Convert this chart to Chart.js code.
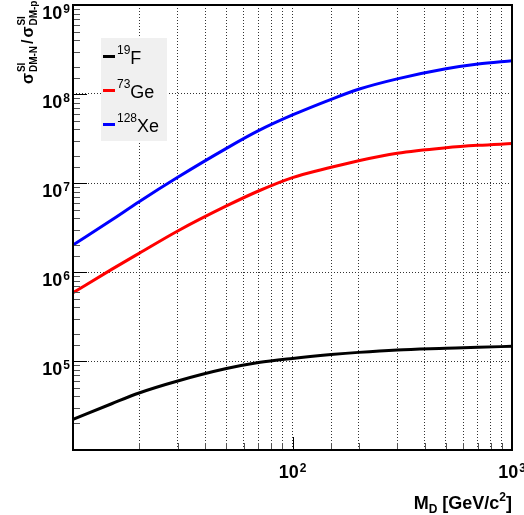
<!DOCTYPE html>
<html lang="en">
<head>
<meta charset="UTF-8">
<meta name="viewport" content="width=device-width, initial-scale=1.0">
<title>SI cross-section ratio vs dark matter mass</title>
<script src="https://cdn.jsdelivr.net/npm/chart.js"></script>
<style>
  html, body { margin: 0; padding: 0; background: #fff; }
  #wrap { width: 524px; height: 515px; }
</style>
</head>
<body>
<div id="wrap"><canvas id="ratioChart" width="524" height="515"></canvas></div>
<script>
// Dark matter mass (GeV/c^2) and sigma(DM-N) / sigma(DM-p) for each target
const massGeV = [10, 15, 20, 30, 50, 70, 100, 150, 200, 300, 500, 700, 1000];
const ratioF  = [2.21e4, 3.31e4, 4.37e4, 5.96e4, 8.22e4, 9.62e4, 1.07e5, 1.18e5, 1.25e5, 1.33e5, 1.39e5, 1.43e5, 1.46e5];
const ratioGe = [5.85e5, 1.07e6, 1.62e6, 2.89e6, 5.52e6, 8.13e6, 1.15e7, 1.50e7, 1.78e7, 2.16e7, 2.49e7, 2.65e7, 2.77e7];
const ratioXe = [2.01e6, 3.84e6, 6.17e6, 1.16e7, 2.45e7, 3.87e7, 5.81e7, 8.71e7, 1.13e8, 1.48e8, 1.92e8, 2.17e8, 2.37e8];

// target nuclei: mass number and element
const isoA    = ['19', '73', '128'];
const isoName = ['F', 'Ge', 'Xe'];

// decades that get a 10^n label
const xLabelExp = [2, 3];
const yLabelExp = [5, 6, 7, 8, 9];

const FONT = '"Liberation Sans", Arial, Helvetica, sans-serif';

function toPoints(ys) {
  return massGeV.map((m, i) => ({ x: m, y: ys[i] }));
}

function isDecade(v) {
  const l = Math.log10(v);
  return Math.abs(l - Math.round(l)) < 1e-6;
}

// "10" with a raised exponent, anchored at x on baseline y
function drawPower(ctx, exp, x, y, align) {
  ctx.font = 'bold 18px ' + FONT;
  const wb = ctx.measureText('10').width;
  ctx.font = 'bold 12px ' + FONT;
  const we = ctx.measureText(String(exp)).width;
  const total = wb + 1 + we;
  let x0 = x;
  if (align === 'right') x0 = x - total;
  if (align === 'center') x0 = x - total / 2;
  ctx.fillStyle = '#000';
  ctx.textAlign = 'left';
  ctx.textBaseline = 'alphabetic';
  ctx.font = 'bold 18px ' + FONT;
  ctx.fillText('10', x0, y);
  ctx.font = 'bold 12px ' + FONT;
  ctx.fillText(String(exp), x0 + wb + 1, y - 6);
}

// sigma with stacked super/subscript, returns advance
function drawSigma(ctx, sup, sub, x) {
  ctx.font = 'bold 16px ' + FONT;
  ctx.fillText('\u03c3', x, 0);
  const ws = ctx.measureText('\u03c3').width + 1;
  ctx.font = 'bold 10px ' + FONT;
  ctx.fillText(sup, x + ws, -8);
  ctx.fillText(sub, x + ws, 4);
  return ws + Math.max(ctx.measureText(sup).width, ctx.measureText(sub).width);
}

const frameAndLabels = {
  id: 'frameAndLabels',
  beforeDatasetsDraw(chart) {
    const { ctx } = chart;
    // legend box sits behind the curves
    ctx.save();
    ctx.fillStyle = '#f0f0f0';
    ctx.fillRect(101, 38, 66, 103);
    ctx.restore();
  },
  afterDraw(chart) {
    const { ctx, chartArea: a, scales } = chart;
    const xs = scales.x, ys = scales.y;
    ctx.save();

    // tick marks pointing into the frame
    ctx.lineWidth = 1;
    xs.ticks.forEach(t => {
      const px = Math.round(xs.getPixelForValue(t.value)) + 0.5;
      const len = isDecade(t.value) ? 13 : 7;
      ctx.strokeStyle = isDecade(t.value) ? '#000' : '#555';
      ctx.beginPath();
      ctx.moveTo(px, a.bottom);
      ctx.lineTo(px, a.bottom - len);
      ctx.stroke();
    });
    ys.ticks.forEach(t => {
      const py = Math.round(ys.getPixelForValue(t.value)) + 0.5;
      const len = isDecade(t.value) ? 14 : 7;
      ctx.strokeStyle = isDecade(t.value) ? '#000' : '#555';
      ctx.beginPath();
      ctx.moveTo(a.left, py);
      ctx.lineTo(a.left + len, py);
      ctx.stroke();
    });

    // frame
    ctx.strokeStyle = '#000';
    ctx.lineWidth = 2;
    ctx.strokeRect(a.left, a.top, a.right - a.left, a.bottom - a.top);

    // axis numbers
    xLabelExp.forEach(e => drawPower(ctx, e, xs.getPixelForValue(Math.pow(10, e)), a.bottom + 28, 'center'));
    yLabelExp.forEach(e => drawPower(ctx, e, a.left - 3, ys.getPixelForValue(Math.pow(10, e)) + 13.5, 'right'));

    // x title: M_D [GeV/c^2]
    ctx.fillStyle = '#000';
    ctx.textBaseline = 'alphabetic';
    ctx.textAlign = 'left';
    const bx = 509;
    ctx.font = 'bold 18px ' + FONT;
    const wM = ctx.measureText('M').width;
    const wMid = ctx.measureText(' [GeV/c').width;
    const wEnd = ctx.measureText(']').width;
    ctx.font = 'bold 12px ' + FONT;
    const wD = ctx.measureText('D').width;
    const w2 = ctx.measureText('2').width;
    let x0 = a.right - (wM + wD + wMid + w2 + wEnd);
    ctx.font = 'bold 18px ' + FONT;
    ctx.fillText('M', x0, bx); x0 += wM;
    ctx.font = 'bold 12px ' + FONT;
    ctx.fillText('D', x0, bx + 4); x0 += wD;
    ctx.font = 'bold 18px ' + FONT;
    ctx.fillText(' [GeV/c', x0, bx); x0 += wMid;
    ctx.font = 'bold 12px ' + FONT;
    ctx.fillText('2', x0, bx - 8); x0 += w2;
    ctx.font = 'bold 18px ' + FONT;
    ctx.fillText(']', x0, bx);

    // y title, rotated
    ctx.save();
    ctx.translate(33, 84);
    ctx.rotate(-Math.PI / 2);
    let tx = 0;
    tx += drawSigma(ctx, 'SI', 'DM-N', tx);
    ctx.font = 'bold 16px ' + FONT;
    tx += 2;
    ctx.fillText('/', tx, 0);
    tx += ctx.measureText('/').width + 2;
    drawSigma(ctx, 'SI', 'DM-p', tx);
    ctx.restore();

    // legend entries
    const rows = [64, 98, 132];
    chart.data.datasets.forEach((ds, i) => {
      const by = rows[i];
      ctx.strokeStyle = ds.borderColor;
      ctx.lineWidth = 3;
      ctx.beginPath();
      ctx.moveTo(103, by - 7.5);
      ctx.lineTo(115, by - 7.5);
      ctx.stroke();
      ctx.fillStyle = '#000';
      ctx.font = '12px ' + FONT;
      ctx.fillText(isoA[i], 117, by - 10);
      const wa = ctx.measureText(isoA[i]).width;
      ctx.font = '18px ' + FONT;
      ctx.fillText(isoName[i], 117 + wa, by);
    });

    ctx.restore();
  }
};

new Chart(document.getElementById('ratioChart'), {
  type: 'line',
  data: {
    datasets: [
      { label: isoA[0] + isoName[0], data: toPoints(ratioF),  borderColor: '#000000' },
      { label: isoA[1] + isoName[1], data: toPoints(ratioGe), borderColor: '#ff0000' },
      { label: isoA[2] + isoName[2], data: toPoints(ratioXe), borderColor: '#0000ff' }
    ]
  },
  options: {
    responsive: false,
    animation: false,
    layout: { padding: { left: 73, right: 12, top: 5, bottom: 65 } },
    plugins: { legend: { display: false }, tooltip: { enabled: false } },
    elements: {
      point: { radius: 0 },
      line: { borderWidth: 3, cubicInterpolationMode: 'monotone', fill: false }
    },
    scales: {
      x: {
        type: 'logarithmic', min: 10, max: 1000,
        ticks: { display: false, autoSkip: false },
        grid: { drawTicks: false, color: '#333', lineWidth: 1 },
        border: { display: false, dash: [1, 2] }
      },
      y: {
        type: 'logarithmic', min: 1e4, max: 1e9,
        ticks: { display: false, autoSkip: false },
        grid: {
          drawTicks: false, lineWidth: 1,
          color: c => (c.tick && isDecade(c.tick.value)) ? '#333' : 'rgba(0,0,0,0)'
        },
        border: { display: false, dash: [1, 2] }
      }
    }
  },
  plugins: [frameAndLabels]
});
</script>
</body>
</html>
